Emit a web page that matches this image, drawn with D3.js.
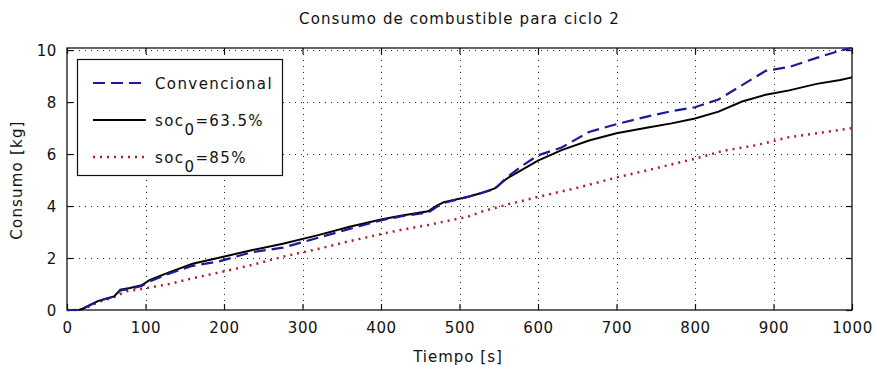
<!DOCTYPE html>
<html>
<head>
<meta charset="utf-8">
<script src="https://cdn.jsdelivr.net/npm/d3@7/dist/d3.min.js"></script>
<style>
  html, body { margin: 0; padding: 0; background: #fff; }
  svg { display: block; }
  text { font-family: "DejaVu Sans", sans-serif; fill: #111; }
</style>
</head>
<body>
<svg id="chart" width="877" height="365"></svg>
<script>
// Fuel consumption over time, cycle 2
const tiempo = [0, 15, 20, 40, 60, 68, 80, 95, 105, 130, 160, 195, 235, 275, 320, 360, 400, 425, 460, 470, 480, 510, 530, 545, 560, 580, 600, 630, 665, 700, 740, 770, 800, 830, 860, 890, 920, 955, 985, 1000];
const convencional = [0, 0, 0.05, 0.35, 0.52, 0.75, 0.82, 0.92, 1.1, 1.4, 1.7, 1.88, 2.22, 2.4, 2.78, 3.12, 3.45, 3.6, 3.75, 3.95, 4.12, 4.35, 4.52, 4.65, 5.1, 5.55, 5.95, 6.25, 6.85, 7.15, 7.45, 7.65, 7.8, 8.1, 8.65, 9.2, 9.35, 9.7, 9.98, 10.08];
const soc635 = [0, 0, 0.05, 0.35, 0.52, 0.78, 0.85, 0.95, 1.15, 1.45, 1.78, 2.02, 2.3, 2.55, 2.88, 3.2, 3.48, 3.63, 3.8, 4.0, 4.15, 4.35, 4.52, 4.68, 5.05, 5.4, 5.75, 6.15, 6.52, 6.8, 7.02, 7.18, 7.37, 7.63, 8.02, 8.28, 8.45, 8.7, 8.85, 8.95];
const tiempo85 = [0, 15, 20, 40, 60, 76, 97, 130, 160, 195, 235, 275, 320, 360, 400, 425, 460, 488, 510, 530, 560, 600, 650, 700, 740, 770, 800, 835, 880, 920, 960, 1000];
const soc85 = [0, 0, 0.03, 0.3, 0.5, 0.72, 0.82, 1.0, 1.22, 1.45, 1.73, 2.05, 2.35, 2.65, 2.92, 3.08, 3.27, 3.45, 3.58, 3.8, 4.05, 4.35, 4.7, 5.1, 5.38, 5.6, 5.82, 6.12, 6.35, 6.65, 6.82, 7.0];

const xTicks = [0, 100, 200, 300, 400, 500, 600, 700, 800, 900, 1000];
const yTicks = [0, 2, 4, 6, 8, 10];

const svg = d3.select("#chart");
const W = 877, H = 365;
const mLeft = 67, mRight = 852, mTop = 48, mBottom = 310;

svg.append("rect").attr("width", W).attr("height", H).attr("fill", "#fff");

const x = d3.scaleLinear().domain([0, 1000]).range([mLeft, mRight]);
const y = d3.scaleLinear().domain([0, 10.08]).range([mBottom, mTop]);

// dotted grid
const grid = svg.append("g").attr("stroke", "#222").attr("stroke-width", 1)
  .attr("stroke-dasharray", "1,5");
grid.selectAll("line.gx").data(xTicks.slice(1, -1)).join("line")
  .attr("x1", d => Math.round(x(d)) + 0.5).attr("x2", d => Math.round(x(d)) + 0.5)
  .attr("y1", mTop).attr("y2", mBottom);
grid.selectAll("line.gy").data(yTicks.slice(1)).join("line")
  .attr("y1", d => Math.round(y(d)) + 0.5).attr("y2", d => Math.round(y(d)) + 0.5)
  .attr("x1", mLeft).attr("x2", mRight);

// axes with inward ticks on all four sides
const tickLen = 6;
const axB = svg.append("g").attr("transform", `translate(0,${mBottom})`)
  .call(d3.axisBottom(x).tickValues(xTicks).tickSize(-tickLen).tickPadding(12).tickFormat(d3.format("d")));
const axT = svg.append("g").attr("transform", `translate(0,${mTop})`)
  .call(d3.axisTop(x).tickValues(xTicks).tickSize(-tickLen).tickFormat(""));
const axL = svg.append("g").attr("transform", `translate(${mLeft},0)`)
  .call(d3.axisLeft(y).tickValues(yTicks).tickSize(-tickLen).tickPadding(10).tickFormat(d3.format("d")));
const axR = svg.append("g").attr("transform", `translate(${mRight},0)`)
  .call(d3.axisRight(y).tickValues(yTicks).tickSize(-tickLen).tickFormat(""));
[axB, axT, axL, axR].forEach(a => {
  a.select(".domain").remove();
  a.selectAll(".tick line").attr("stroke", "#111").attr("stroke-width", 1.2);
  a.selectAll("text").attr("font-family", "DejaVu Sans, sans-serif")
    .attr("font-size", 15).attr("letter-spacing", 0.6).attr("fill", "#111");
});
axB.selectAll("text").attr("dy", "0.71em");
axL.selectAll("text").attr("dy", "0.36em");

// axes box
svg.append("rect").attr("x", mLeft).attr("y", mTop)
  .attr("width", mRight - mLeft).attr("height", mBottom - mTop)
  .attr("fill", "none").attr("stroke", "#111").attr("stroke-width", 1.3);

// series
const plot = svg.append("g");
const lineGen = (ts) => d3.line().x((d, i) => x(ts[i])).y(d => y(d));

plot.append("path").datum(soc85)
  .attr("d", lineGen(tiempo85))
  .attr("fill", "none").attr("stroke", "#b0202a").attr("stroke-width", 2.5)
  .attr("stroke-dasharray", "2,5");
plot.append("path").datum(soc635)
  .attr("d", lineGen(tiempo))
  .attr("fill", "none").attr("stroke", "#000").attr("stroke-width", 2);
plot.append("path").datum(convencional)
  .attr("d", lineGen(tiempo))
  .attr("fill", "none").attr("stroke", "#1b1b95").attr("stroke-width", 2.2)
  .attr("stroke-dasharray", "12,6");

// title and axis labels
svg.append("text").attr("x", (mLeft + mRight) / 2).attr("y", 24)
  .attr("text-anchor", "middle").attr("font-size", 15).attr("letter-spacing", 1.1)
  .text("Consumo de combustible para ciclo 2");
svg.append("text").attr("x", 458).attr("y", 362)
  .attr("text-anchor", "middle").attr("font-size", 15).attr("letter-spacing", 1)
  .text("Tiempo [s]");
svg.append("text").attr("transform", "translate(22,180) rotate(-90)")
  .attr("text-anchor", "middle").attr("font-size", 15).attr("letter-spacing", 1.2)
  .text("Consumo [kg]");

// legend
const lg = svg.append("g");
lg.append("rect").attr("x", 77.5).attr("y", 59.5).attr("width", 205).attr("height", 116)
  .attr("fill", "#fff").attr("stroke", "#111").attr("stroke-width", 1.2);
const legendItems = [
  { label: "Convencional", sub: null, rest: null, color: "#1b1b95", w: 2.2, dash: "12,6" },
  { label: "soc", sub: "0", rest: "=63.5%", color: "#000", w: 2, dash: null },
  { label: "soc", sub: "0", rest: "=85%", color: "#b0202a", w: 2.5, dash: "2,5" }
];
legendItems.forEach((it, i) => {
  const ly = 83 + i * 37;
  lg.append("line").attr("x1", 93).attr("x2", 146).attr("y1", ly).attr("y2", ly)
    .attr("stroke", it.color).attr("stroke-width", it.w)
    .attr("stroke-dasharray", it.dash);
  const t = lg.append("text").attr("x", 155).attr("y", ly + 6)
    .attr("font-size", 15).attr("letter-spacing", 1.4);
  t.append("tspan").text(it.label);
  if (it.sub) {
    t.append("tspan").attr("dy", 9).text(it.sub);
    t.append("tspan").attr("dy", -9).text(it.rest);
  }
});
</script>
</body>
</html>
